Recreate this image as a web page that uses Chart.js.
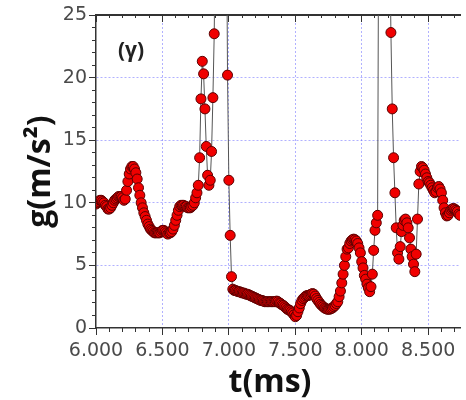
<!DOCTYPE html>
<html>
<head>
<meta charset="utf-8">
<script src="https://cdn.jsdelivr.net/npm/chart.js@4.4.1/dist/chart.umd.min.js"></script>
<style>
  html, body { margin: 0; padding: 0; background: #fff; overflow: hidden; }
  #wrap { width: 466px; height: 400px; position: relative; }
</style>
</head>
<body>
<div id="wrap"><canvas id="accelChart"></canvas></div>
<script>
// sampling clock of the record (ms)
const T_START = 6.0;
const T_STEP = 0.01;

// measured acceleration g (m/s^2), one value per sample; each row is 0.1 ms
const accel = [
  9.9, 10.0, 10.1, 10.2, 10.2, 10.1, 10.0, 9.8, 9.7, 9.5,          // 6.00
  9.5, 9.6, 9.8, 10.0, 10.2, 10.3, 10.4, 10.5, 10.5, 10.5,         // 6.10
  10.4, 10.2, 10.3, 11.0, 11.7, 12.3, 12.7, 12.9, 12.9, 12.7,      // 6.20
  12.4, 11.9, 11.2, 10.6, 10.0, 9.6, 9.2, 8.9, 8.6, 8.3,           // 6.30
  8.1, 7.9, 7.8, 7.7, 7.6, 7.6, 7.6, 7.6, 7.6, 7.7,                // 6.40
  7.8, 7.8, 7.7, 7.6, 7.5, 7.6, 7.6, 7.7, 7.9, 8.2,                // 6.50
  8.6, 9.0, 9.4, 9.7, 9.8, 9.8, 9.8, 9.7, 9.7, 9.6,                // 6.60
  9.6, 9.6, 9.7, 9.8, 10.0, 10.4, 10.8, 11.4, 13.6, 18.3,          // 6.70
  21.3, 20.3, 17.5, 14.5, 12.2, 11.4, 11.8, 14.1, 18.4, 23.5,      // 6.80
  34, 48, 60, 68, 72, 70, 62, 50, 38, 20.2,                        // 6.90
  11.8, 7.4, 4.1, 3.1, 3.0, 3.0, 2.95, 2.9, 2.9, 2.85,             // 7.00
  2.8, 2.8, 2.75, 2.7, 2.7, 2.65, 2.6, 2.55, 2.5, 2.45,            // 7.10
  2.4, 2.35, 2.3, 2.25, 2.2, 2.2, 2.15, 2.1, 2.1, 2.1,             // 7.20
  2.1, 2.1, 2.1, 2.1, 2.1, 2.1, 2.15, 2.1, 2.0, 1.95,              // 7.30
  1.85, 1.8, 1.7, 1.6, 1.5, 1.45, 1.4, 1.3, 1.2, 1.05,             // 7.40
  0.9, 1.0, 1.3, 1.6, 1.95, 2.2, 2.35, 2.45, 2.55, 2.6,            // 7.50
  2.6, 2.65, 2.7, 2.75, 2.7, 2.55, 2.35, 2.2, 2.05, 1.9,           // 7.60
  1.8, 1.7, 1.6, 1.55, 1.5, 1.5, 1.5, 1.55, 1.6, 1.7,              // 7.70
  1.8, 1.95, 2.1, 2.5, 2.95, 3.6, 4.3, 5.0, 5.7, 6.3,              // 7.80
  6.4, 6.75, 6.95, 7.05, 7.1, 7.05, 6.95, 6.75, 6.4, 6.0,          // 7.90
  5.3, 4.8, 4.2, 3.9, 3.5, 3.2, 2.9, 3.3, 4.3, 6.2,                // 8.00
  7.8, 8.4, 9.0, 40, 60, 72, 78, 74, 62, 50,                       // 8.10
  38, 32, 23.6, 17.5, 13.6, 10.8, 8.0, 6.0, 5.5, 6.5,              // 8.20
  7.7, 8.2, 8.6, 8.7, 8.4, 8.0, 7.2, 6.3, 5.7, 5.1,                // 8.30
  4.5, 5.9, 8.7, 11.5, 12.5, 12.9, 12.8, 12.6, 12.3, 12.0,         // 8.40
  11.7, 11.6, 11.4, 11.2, 11.0, 10.8, 10.9, 11.2, 11.3, 11.1,      // 8.50
  10.8, 10.2, 9.6, 9.2, 8.95, 9.0, 9.2, 9.4, 9.5, 9.55,            // 8.60
  9.5, 9.4, 9.3, 9.1, 9.0, 8.9                                     // 8.70
];

const xMin = 6.0, xMax = 8.74;
const yMin = 0, yMax = 25;
const xTitle = 't(ms)';
const yTitle = 'g(m/s²)';
const panelTag = '(γ)';

const points = accel.map((g, i) => ({ x: +(T_START + i * T_STEP).toFixed(2), y: g }));

const AXIS = '#333333';
const GRID = 'rgba(100, 100, 255, 0.5)';
const tickFont = { family: 'DejaVu Sans', size: 19 };

// plain tick-mark axis laid over the plot frame (no labels, no grid)
function markAxis(axis, position, min, max, step, len) {
    return {
        type: 'linear', axis, position, min, max,
        ticks: { display: false, stepSize: step, includeBounds: false },
        grid: { display: true, drawOnChartArea: false, drawTicks: true, tickLength: len, tickColor: AXIS, tickWidth: 1 },
        border: { display: false }
    };
}

const titlesPlugin = {
    id: 'titlesPlugin',
    afterDraw(chart) {
        const { ctx, chartArea } = chart;
        ctx.save();
        ctx.fillStyle = '#111';
        ctx.textAlign = 'center';
        ctx.textBaseline = 'alphabetic';
        ctx.font = 'bold 32px "Open Sans"';
        ctx.fillText(xTitle, 270, 392);
        ctx.save();
        ctx.translate(50, (chartArea.top + chartArea.bottom) / 2);
        ctx.rotate(-Math.PI / 2);
        ctx.fillText(yTitle, 0, 0);
        ctx.restore();
        ctx.font = 'bold 21px "Open Sans"';
        ctx.fillStyle = '#222';
        ctx.fillText(panelTag, 131, 57);
        ctx.restore();
    }
};

const topMajor = markAxis('x', { y: yMax }, xMin, xMax, 0.5, 6);
topMajor.border = { display: true, color: AXIS, width: 2 };

new Chart(document.getElementById('accelChart'), {
    type: 'line',
    data: {
        datasets: [{
            data: points,
            borderColor: '#555',
            borderWidth: 1,
            tension: 0,
            pointRadius: 5,
            pointBackgroundColor: '#f00000',
            pointBorderColor: '#5a0000',
            pointBorderWidth: 1,
            clip: 0
        }]
    },
    options: {
        responsive: true,
        maintainAspectRatio: false,
        animation: false,
        layout: { padding: { top: 15, left: 0, right: 0, bottom: 0 } },
        plugins: {
            legend: { display: false },
            tooltip: { enabled: false }
        },
        scales: {
            x: {
                type: 'linear',
                position: 'bottom',
                min: xMin,
                max: xMax,
                afterFit: s => { s.height = 72; },
                ticks: {
                    stepSize: 0.5,
                    includeBounds: false,
                    autoSkip: false,
                    maxRotation: 0,
                    padding: 5,
                    color: '#4a4a4a',
                    font: tickFont,
                    callback: v => Number(v).toFixed(3)
                },
                grid: {
                    color: c => (c.tick && Math.abs(c.tick.value - xMin) < 1e-6) ? 'rgba(0,0,0,0)' : GRID,
                    lineWidth: 1,
                    tickLength: 7,
                    tickColor: AXIS
                },
                border: { color: AXIS, width: 1.5, dash: [2, 2] }
            },
            y: {
                type: 'linear',
                position: 'left',
                min: yMin,
                max: yMax,
                afterFit: s => { s.width = 96; },
                ticks: {
                    stepSize: 5,
                    padding: 2,
                    color: '#4a4a4a',
                    font: tickFont
                },
                grid: {
                    color: c => (c.tick && (c.tick.value === yMin || c.tick.value === yMax)) ? 'rgba(0,0,0,0)' : GRID,
                    lineWidth: 1,
                    tickLength: 7,
                    tickColor: AXIS
                },
                border: { color: AXIS, width: 1.5, dash: [2, 2] }
            },
            xMinor: markAxis('x', { y: yMin }, xMin, xMax, 0.1, 4),
            xTop: topMajor,
            xTopMinor: markAxis('x', { y: yMax }, xMin, xMax, 0.1, 3),
            yMinor: markAxis('y', { x: xMin }, yMin, yMax, 1, 4)
        }
    },
    plugins: [titlesPlugin]
});
</script>
</body>
</html>
